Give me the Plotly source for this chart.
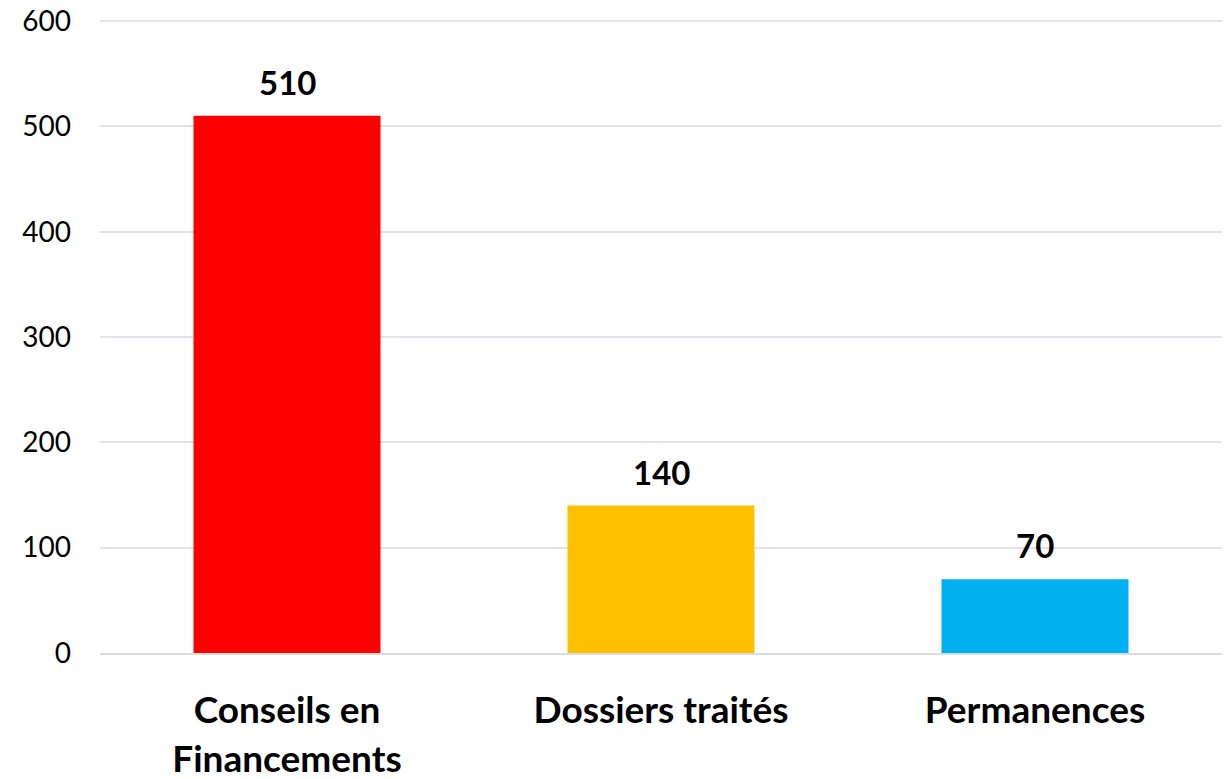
import plotly.graph_objects as go

categories = ["Conseils en<br>Financements", "Dossiers traités", "Permanences"]
values = [510, 140, 70]
colors = ["#FF0000", "#FFC000", "#00B0F0"]
y_ticks = [0, 100, 200, 300, 400, 500, 600]

font_family = "Lato, 'Open Sans', sans-serif"

fig = go.Figure()
fig.add_trace(go.Bar(x=categories, y=values, marker_color=colors, marker_line_width=0))

# bold value labels above each bar
for cat, val in zip(categories, values):
    fig.add_annotation(x=cat, y=val, text="<b>%d</b>" % val, showarrow=False,
                       yanchor="bottom", yshift=12,
                       font=dict(family=font_family, size=33, color="black"))

fig.update_layout(
    width=1230, height=779,
    margin=dict(l=100, r=8, t=20, b=126),
    plot_bgcolor="white", paper_bgcolor="white",
    bargap=0.5, showlegend=False,
    font=dict(family=font_family, color="black"),
)
# range goes a hair past 600 so the top gridline is still drawn
fig.update_yaxes(range=[0, 601], tickvals=y_ticks, gridcolor="#e0e3e8", gridwidth=2,
                 zeroline=False, showline=False, ticklabelstandoff=28,
                 tickfont=dict(size=28), automargin=False, ticklabeloverflow="allow")
fig.update_xaxes(showline=True, linecolor="#d9dde3", linewidth=2,
                 tickfont=dict(size=37, color="black"), ticklabelstandoff=24,
                 tickprefix="<b>", ticksuffix="</b>", automargin=False)

# drop the default body margin so the figure fills the window exactly
fig.write_html("out.html", config={"displayModeBar": False},
               post_script="document.body.style.margin='0';")
